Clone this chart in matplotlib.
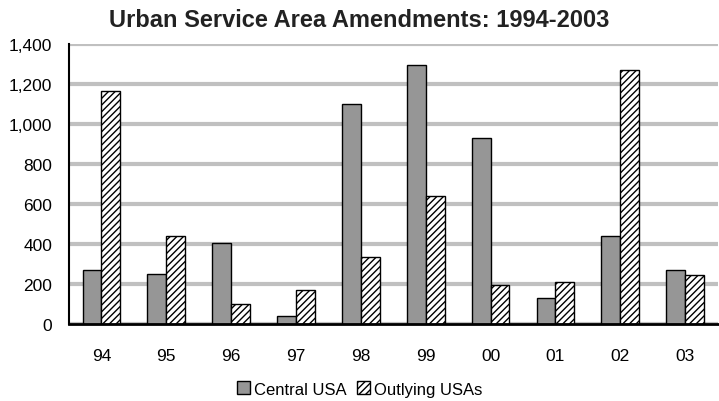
import matplotlib
matplotlib.use("Agg")
import matplotlib.pyplot as plt
import numpy as np

plt.rcParams["font.family"] = ["Liberation Sans", "DejaVu Sans"]
plt.rcParams["hatch.linewidth"] = 1.0

years = ["94", "95", "96", "97", "98", "99", "00", "01", "02", "03"]
central = [270, 252, 406, 41, 1099, 1297, 932, 129, 442, 269]
outlying = [1166, 442, 99, 172, 334, 641, 194, 209, 1269, 246]

fig = plt.figure(figsize=(7.19, 4.02), dpi=100)
ax = fig.add_axes([0.096, 0.191, 0.902, 0.697])

x = np.arange(len(years))
w = 0.29
ax.bar(x - w / 2, central, w, color="#969696", edgecolor="black", lw=1.0,
       label="Central USA", zorder=3)
ax.bar(x + w / 2, outlying, w, color="white", edgecolor="black", lw=1.0,
       hatch="/////", label="Outlying USAs", zorder=3)

ax.set_xlim(-0.5, len(years) - 0.5)
ax.set_ylim(0, 1400)
ax.set_yticks(range(0, 1401, 200))
ax.set_yticklabels([f"{v:,}" for v in range(0, 1401, 200)])
ax.set_xticks(x)
ax.set_xticklabels(years)
ax.tick_params(length=0, labelsize=12.5)
ax.tick_params(axis="y", pad=12)
ax.tick_params(axis="x", pad=17)
ax.grid(axis="y", color="#c0c0c0", lw=3, zorder=0)
for s in ("top", "right"):
    ax.spines[s].set_visible(False)
ax.spines["left"].set_linewidth(1.5)
ax.spines["bottom"].set_linewidth(2)
ax.spines["bottom"].set_zorder(4)

fig.text(0.5, 0.948, "Urban Service Area Amendments: 1994-2003", fontsize=17,
         fontweight="bold", ha="center", va="center", color="#222222")
fig.legend(loc="center", bbox_to_anchor=(0.5, 0.030), ncol=2, frameon=False,
           fontsize=12, handlelength=0.8, handleheight=0.8, handletextpad=0.25,
           columnspacing=0.6, borderpad=0)

fig.savefig("out.png", dpi=100)
